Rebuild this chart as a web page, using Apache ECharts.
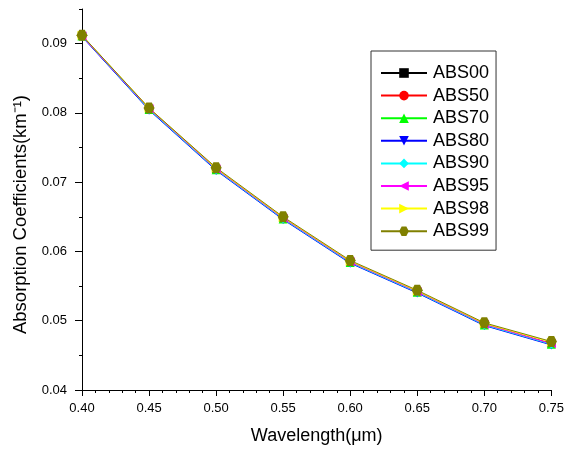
<!DOCTYPE html>
<html>
<head>
<meta charset="utf-8">
<script src="https://cdn.jsdelivr.net/npm/echarts@6/dist/echarts.min.js"></script>
<style>html,body{margin:0;padding:0;background:#fff}#c{width:567px;height:454px}</style>
</head>
<body>
<div id="c"></div>
<script>
var wavelengths = [0.40, 0.45, 0.50, 0.55, 0.60, 0.65, 0.70, 0.75];
var seriesNames = ['ABS00', 'ABS50', 'ABS70', 'ABS80', 'ABS90', 'ABS95', 'ABS98', 'ABS99'];
var abs00 = [0.0911, 0.0806, 0.0719, 0.0648, 0.0585, 0.0542, 0.0495, 0.0467];
var abs50 = [0.0911, 0.0806, 0.0719, 0.0648, 0.0585, 0.0542, 0.0495, 0.0467];
var abs70 = [0.0911, 0.0805, 0.0718, 0.0647, 0.0584, 0.0541, 0.0494, 0.0466];
var abs80 = [0.0910, 0.0804, 0.0717, 0.0646, 0.0583, 0.0540, 0.0493, 0.0465];
var abs90 = [0.0911, 0.0805, 0.0718, 0.0647, 0.0584, 0.0541, 0.0494, 0.0466];
var abs95 = [0.0911, 0.0806, 0.0719, 0.0648, 0.0585, 0.0542, 0.0495, 0.0467];
var abs98 = [0.0912, 0.0807, 0.0720, 0.0649, 0.0586, 0.0543, 0.0496, 0.0469];
var abs99 = [0.0912, 0.0807, 0.0721, 0.0650, 0.0587, 0.0544, 0.0497, 0.0470];
var xTicks = [0.40, 0.45, 0.50, 0.55, 0.60, 0.65, 0.70, 0.75];
var yTicks = [0.04, 0.05, 0.06, 0.07, 0.08, 0.09];
var yMinorTicks = [0.045, 0.055, 0.065, 0.075, 0.085, 0.095];

var allValues = [abs00, abs50, abs70, abs80, abs90, abs95, abs98, abs99];
var colors = ['#000000', '#ff0000', '#00ff00', '#0000ff', '#00ffff', '#ff00ff', '#ffff00', '#808000'];
var symbols = [
  'rect',
  'circle',
  'triangle',
  'path://M0,0 L100,0 L50,100 Z',
  'diamond',
  'path://M0,50 L100,0 L100,100 Z',
  'path://M100,50 L0,0 L0,100 Z',
  'path://M25,0 L75,0 L100,50 L75,100 L25,100 L0,50 Z'
];
var sizes = [8, 8, 9, 9, 9, 9, 9, 11];

var FONT = 'Liberation Sans, Arial, sans-serif';

var series = seriesNames.map(function (n, i) {
  return {
    name: n,
    type: 'line',
    data: wavelengths.map(function (w, j) { return [w, allValues[i][j]]; }),
    symbol: symbols[i],
    symbolSize: sizes[i],
    showAllSymbol: true,
    lineStyle: { color: colors[i], width: 1 },
    itemStyle: { color: colors[i] },
    emphasis: { disabled: true },
    animation: false
  };
});

var chart = echarts.init(document.getElementById('c'));
chart.setOption({
  animation: false,
  backgroundColor: '#ffffff',
  grid: { left: 82, right: 14, top: 9, bottom: 64 },
  legend: {
    orient: 'vertical',
    left: 371,
    top: 51,
    padding: [12, 7, 9, 9],
    itemWidth: 46,
    itemHeight: 12,
    itemGap: 2.6,
    borderColor: '#333',
    borderWidth: 1,
    textStyle: { fontFamily: FONT, fontSize: 18, color: '#000', lineHeight: 20, padding: [0, 0, 0, 1] },
    data: seriesNames
  },
  xAxis: {
    type: 'value',
    min: 0.40,
    max: 0.75,
    interval: 0.05,
    name: 'Wavelength(μm)',
    nameLocation: 'middle',
    nameGap: 37,
    nameTextStyle: { fontFamily: FONT, fontSize: 18, color: '#000' },
    axisLine: { show: true, lineStyle: { color: '#000', width: 1 } },
    axisTick: { show: true, length: 6, lineStyle: { color: '#000' } },
    minorTick: { show: true, splitNumber: 5, length: 3, lineStyle: { color: '#000' } },
    axisLabel: {
      fontFamily: FONT, fontSize: 13, color: '#000', margin: 12,
      formatter: function (v) { return v.toFixed(2); }
    },
    splitLine: { show: false }
  },
  yAxis: [{
    type: 'value',
    min: 0.04,
    max: 0.095,
    interval: 0.01,
    name: 'Absorption Coefficients(km⁻¹)',
    nameLocation: 'middle',
    nameGap: 52,
    nameTextStyle: { fontFamily: FONT, fontSize: 18.5, color: '#000', padding: [0, 30, 0, 0] },
    axisLine: { show: true, lineStyle: { color: '#000', width: 1 } },
    axisTick: { show: true, length: 7, customValues: yTicks, lineStyle: { color: '#000' } },
    axisLabel: {
      fontFamily: FONT, fontSize: 13, color: '#000', margin: 15,
      customValues: yTicks,
      formatter: function (v) { return v.toFixed(2); }
    },
    splitLine: { show: false }
  }, {
    type: 'value',
    min: 0.04,
    max: 0.095,
    interval: 0.005,
    position: 'left',
    axisLine: { show: false },
    axisTick: { show: true, length: 3, customValues: yMinorTicks, lineStyle: { color: '#000' } },
    axisLabel: { show: false },
    splitLine: { show: false }
  }],
  series: series
});
</script>
</body>
</html>
